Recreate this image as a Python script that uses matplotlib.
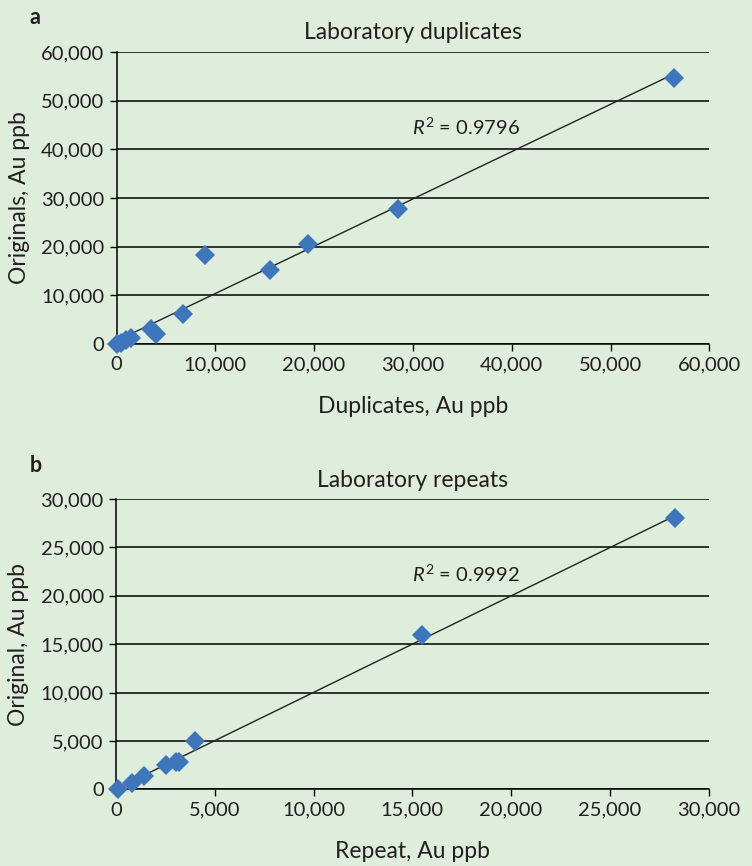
import numpy as np
import matplotlib
matplotlib.use("Agg")
import matplotlib.pyplot as plt
from matplotlib.ticker import FuncFormatter, MultipleLocator

# ---- data ----
dup_x = [0, 500, 1000, 1500, 3500, 4000, 6700, 9000, 15500, 19400, 28500, 56400]
dup_y = [0, 300, 800, 1200, 3000, 2000, 6200, 18200, 15200, 20500, 27700, 54600]
dup_r2 = "0.9796"

rep_x = [100, 800, 1400, 2500, 3000, 3200, 4000, 15500, 28300]
rep_y = [0, 700, 1400, 2500, 2800, 2800, 5000, 15900, 28000]
rep_r2 = "0.9992"

panel_a = dict(letter="a", title="Laboratory duplicates", xlabel="Duplicates, Au ppb",
               ylabel="Originals, Au ppb", lim=60000, step=10000, r2=dup_r2, r2pos=(29900, 44500))
panel_b = dict(letter="b", title="Laboratory repeats", xlabel="Repeat, Au ppb",
               ylabel="Original, Au ppb", lim=30000, step=5000, r2=rep_r2, r2pos=(15000, 22200))

BG = "#dfeedc"
MARK = "#3d76bb"
TXT = "#231f20"

plt.rcParams["font.family"] = ["Lato", "DejaVu Sans"]
plt.rcParams["mathtext.fontset"] = "custom"
plt.rcParams["mathtext.rm"] = "Lato"
plt.rcParams["mathtext.it"] = "Lato:italic"

fig = plt.figure(figsize=(7.52, 8.66), dpi=100, facecolor=BG)

W, H = 752, 866
def rect(l, r, t, b):
    return [l / W, 1 - b / H, (r - l) / W, (b - t) / H]

ax_a = fig.add_axes(rect(116.5, 709.3, 52, 344))
ax_b = fig.add_axes(rect(116.3, 708.5, 499, 789.3))

fmt = FuncFormatter(lambda v, p: f"{int(v):,}")

def draw(ax, xs, ys, cfg):
    ax.set_facecolor(BG)
    lim, step = cfg["lim"], cfg["step"]
    ax.set_xlim(0, lim)
    ax.set_ylim(0, lim)
    ax.xaxis.set_major_locator(MultipleLocator(step))
    ax.yaxis.set_major_locator(MultipleLocator(step))
    ax.xaxis.set_major_formatter(fmt)
    ax.yaxis.set_major_formatter(fmt)
    for s in ["top", "right"]:
        ax.spines[s].set_visible(False)
    for s in ["left", "bottom"]:
        ax.spines[s].set_color("black")
        ax.spines[s].set_linewidth(1.1)
    ax.grid(axis="y", color="black", linewidth=1.1)
    ax.set_axisbelow(True)
    ax.tick_params(axis="both", direction="out", length=5, width=1.0, color="black",
                   labelsize=14.5, labelcolor=TXT, pad=4)
    xs = np.array(xs, float); ys = np.array(ys, float)
    m, b = np.polyfit(xs, ys, 1)
    lx = np.array([xs.min(), xs.max()])
    ax.plot(lx, m * lx + b, color="#222222", linewidth=1.0, zorder=3, clip_on=False)
    ax.plot(xs, ys, linestyle="none", marker="D", markersize=10.5, color=MARK,
            markeredgewidth=0, zorder=4, clip_on=False)
    ax.text(cfg["r2pos"][0], cfg["r2pos"][1], r"$R^2$ = " + cfg["r2"], fontsize=14.5,
            color=TXT, va="center", ha="left")
    ax.set_title(cfg["title"], fontsize=16.5, color=TXT, pad=9)
    ax.set_xlabel(cfg["xlabel"], fontsize=16.5, color=TXT, labelpad=16)
    ax.set_ylabel(cfg["ylabel"], fontsize=16.5, color=TXT, labelpad=8)

draw(ax_a, dup_x, dup_y, panel_a)
draw(ax_b, rep_x, rep_y, panel_b)

fig.text(30 / W, 1 - 17 / H, panel_a["letter"], fontsize=15.5, fontweight="bold", color=TXT,
         ha="left", va="center")
fig.text(30 / W, 1 - 465 / H, panel_b["letter"], fontsize=15.5, fontweight="bold", color=TXT,
         ha="left", va="center")

fig.savefig("out.png", dpi=100, facecolor=BG)
